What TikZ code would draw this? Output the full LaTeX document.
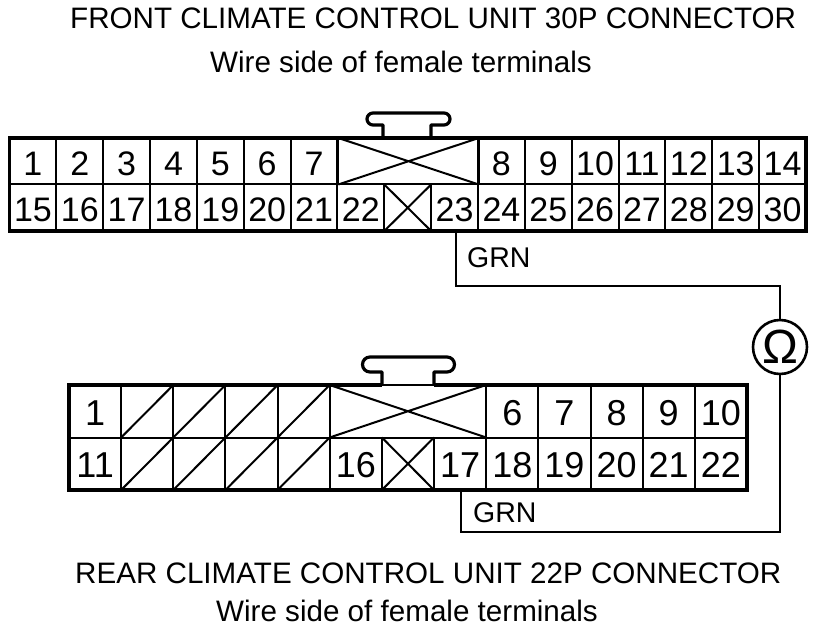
\documentclass[tikz,border=0pt]{standalone}
\usepackage{fontspec}
\setmainfont{Liberation Sans}
\tikzset{
	pin/.style={draw, line width=2pt, inner sep=0pt, outer sep=0pt, text height=28pt, text depth=0pt},
	fpin/.style={pin, minimum width=46.85pt, minimum height=46.5pt, font=\fontsize{34}{34}\selectfont},
	rpin/.style={pin, minimum width=52.15pt, minimum height=52.5pt, font=\fontsize{36}{36}\selectfont},
	rim/.style={line width=3.6pt, line join=miter},
	latch/.style={line width=3.2pt, line join=round},
	blank/.style={line width=2pt},
	wire/.style={line width=2pt},
	title/.style={anchor=base west, inner sep=0pt, font=\fontsize{29.6}{30}\selectfont},
	grn/.style={anchor=base west, inner sep=0pt, font=\fontsize{28.5}{29}\selectfont}
}
\begin{document}
\begin{tikzpicture}[x=1pt, y=-1pt]
	\useasboundingbox (0,0) rectangle (832,628);
	\node[title] (ftitle) at (70,29) {FRONT CLIMATE CONTROL UNIT 30P CONNECTOR};
	\node[title] (fside) at (210,73) {Wire side of female terminals};
	\node[title] (rtitle) at (75,583) {REAR CLIMATE CONTROL UNIT 22P CONNECTOR};
	\node[title] (rside) at (216,621.5) {Wire side of female terminals};
	% front connector
	\foreach \n [evaluate=\n as \x using 9.5+46.85*(\n-0.5)] in {1,...,7}
		\node[fpin] (f\n) at (\x,161.25) {\n};
	\foreach \n [evaluate=\n as \x using 9.5+46.85*(\n+2.5)] in {8,...,14}
		\node[fpin] (f\n) at (\x,161.25) {\n};
	\foreach \n [evaluate=\n as \x using 9.5+46.85*(\n-14.5)] in {15,...,22}
		\node[fpin] (f\n) at (\x,207.75) {\n};
	\foreach \n [evaluate=\n as \x using 9.5+46.85*(\n-13.5)] in {23,...,30}
		\node[fpin] (f\n) at (\x,207.75) {\n};
	\node[fpin, minimum width=140.55pt] (fwide) at (408.55,161.25) {};
	\node[fpin] (fx) at (407.7,207.75) {};
	\draw[blank] (fwide.north west) -- (fwide.south east) (fwide.south west) -- (fwide.north east);
	\draw[blank] (fx.north west) -- (fx.south east) (fx.south west) -- (fx.north east);
	\draw[rim] (f1.north west) rectangle (f30.south east);
	\draw[latch] (383,138) -- (383,125) -- (373,125) arc (90:270:6) -- (444,113) arc (270:450:6) -- (431,125) -- (431,138);
	% rear connector
	\foreach \n [evaluate=\n as \x using 69+52.15*(\n+2.5)] in {6,...,10}
		\node[rpin] (r\n) at (\x,411.25) {\n};
	\foreach \n [evaluate=\n as \x using 69+52.15*(\n-9.5)] in {17,...,22}
		\node[rpin] (r\n) at (\x,463.75) {\n};
	\node[rpin] (r1) at (95.1,411.25) {1};
	\node[rpin] (r11) at (95.1,463.75) {11};
	\node[rpin] (r16) at (355.8,463.75) {16};
	\foreach \c [evaluate=\c as \x using 69+52.15*(\c+0.5)] in {1,...,4}{
		\node[rpin] (ra\c) at (\x,411.25) {};
		\node[rpin] (rb\c) at (\x,463.75) {};
		\draw[blank] (ra\c.south west) -- (ra\c.north east) (rb\c.south west) -- (rb\c.north east);
	}
	\node[rpin, minimum width=156.45pt] (rwide) at (407.9,411.25) {};
	\node[rpin] (rx) at (407.95,463.75) {};
	\draw[blank] (rwide.north west) -- (rwide.south east) (rwide.south west) -- (rwide.north east);
	\draw[blank] (rx.north west) -- (rx.south east) (rx.south west) -- (rx.north east);
	\coordinate (rstemleft) at (382,385);
	\coordinate (rstemright) at (434,385);
	\draw[rim] (rstemleft) -- (r1.north west) -- (r11.south west) -- (r22.south east) -- (r10.north east) -- (rstemright);
	\draw[latch] (rstemleft) -- (382,372) -- (370,372) arc (90:270:7.5) -- (447,357) arc (270:450:7.5) -- (434,372) -- (rstemright);
	% meter and wires
	\node[draw, circle, line width=2.6pt, minimum size=54pt, inner sep=0pt, font=\fontsize{48}{48}\selectfont] (ohm) at (780,347) {Ω};
	\draw[wire] ([xshift=1.4pt]f23.south) -- ++(0,55) -| (ohm.north);
	\draw[wire] ([xshift=1pt]r17.south) -- ++(0,42) -| (ohm.south);
	\node[grn] (fgrn) at (467,268) {GRN};
	\node[grn] (rgrn) at (473,522) {GRN};
\end{tikzpicture}
\end{document}
